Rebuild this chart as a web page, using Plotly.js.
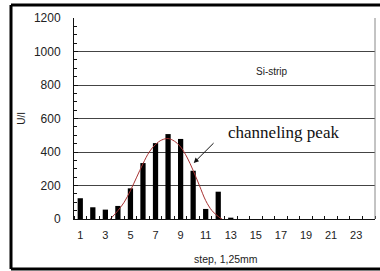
<!DOCTYPE html>
<html>
<head>
<meta charset="utf-8">
<script src="https://cdn.plot.ly/plotly-3.0.1.min.js"></script>
<style>
html,body{margin:0;padding:0;background:#fff;}
#chart{width:380px;height:271px;}
</style>
</head>
<body>
<div id="chart"></div>
<script>
// Data
const steps = [1,2,3,4,5,6,7,8,9,10,11,12,13,14,15,16,17,18,19,20,21,22,23,24];
const counts = [124,70,56,78,183,334,453,507,478,288,60,163,8,0,0,0,0,0,0,0,0,0,0,0];
const fitX = [3.4,4,4.5,5,5.5,6,6.5,7,7.5,8,8.5,9,9.5,10,10.5,11,11.5,12,12.3];
const fitY = [0,50,100,170,250,330,400,445,472,480,465,430,370,290,200,110,50,15,0];
const tickVals = [1,3,5,7,9,11,13,15,17,19,21,23];
const tickText = ["1","3","5","7","9","11","13","15","17","19","21","23"];
const xTitle = "step, 1,25mm";
const yTitle = "U/I";
const label1 = "Si-strip";
const label2 = "channeling peak";

const traces = [
  {type:'bar', x:steps, y:counts, width:0.42, marker:{color:'#000'}, hoverinfo:'skip'},
  {type:'scatter', mode:'lines', x:fitX, y:fitY, line:{color:'#a83232', width:1, shape:'spline'}, hoverinfo:'skip'}
];

const sans = 'Arial, "Liberation Sans", sans-serif';
const axFont = {family:sans, size:11, color:'#222'};

const layout = {
  width:380, height:271,
  margin:{l:74, r:5, t:18, b:52},
  paper_bgcolor:'#fff', plot_bgcolor:'#fff',
  showlegend:false,
  font:axFont,
  xaxis:{
    range:[0.5,24.5], tickmode:'array', tickvals:tickVals, ticktext:tickText,
    ticks:'', showgrid:false, zeroline:false,
    showline:true, linecolor:'#111', linewidth:1,
    tickfont:axFont, ticklabelstandoff:6,
    minor:{tickmode:'linear', tick0:0.5, dtick:1, ticks:'inside', ticklen:3, tickcolor:'#111', showgrid:false}
  },
  yaxis:{
    range:[0,1200], tickmode:'linear', tick0:0, dtick:200,
    ticks:'inside', ticklen:4, tickcolor:'#111',
    showgrid:true, gridcolor:'#444', gridwidth:1,
    zeroline:false, showline:true, linecolor:'#111', linewidth:1,
    tickfont:{family:sans, size:12, color:'#222'}, ticklabelstandoff:10,
    minor:{dtick:50, ticks:'inside', ticklen:3, tickcolor:'#111', showgrid:false}
  },
  shapes:[
    // plot area right border
    {type:'line', xref:'paper', yref:'paper', x0:1, x1:1, y0:0, y1:1, line:{color:'#888', width:1}},
    // outer frame (top, left, bottom)
    {type:'line', xref:'paper', yref:'paper', x0:-0.2093, x1:1.05, y0:1.0647, y1:1.0647, line:{color:'#000', width:3}},
    {type:'line', xref:'paper', yref:'paper', x0:-0.2093, x1:-0.2093, y0:1.0647, y1:-0.2488, line:{color:'#000', width:3}},
    {type:'line', xref:'paper', yref:'paper', x0:-0.2093, x1:1.05, y0:-0.2488, y1:-0.2488, line:{color:'#000', width:3}}
  ],
  annotations:[
    {text:label1, x:16.3, y:878, xref:'x', yref:'y', showarrow:false,
     font:{family:sans, size:10, color:'#222'}},
    {text:label2, x:17.2, y:515, xref:'x', yref:'y', showarrow:false,
     font:{family:'"Liberation Serif", "Times New Roman", serif', size:17, color:'#111'}},
    {text:'', x:10.05, y:335, xref:'x', yref:'y', ax:11.75, ay:462, axref:'x', ayref:'y',
     showarrow:true, arrowhead:2, arrowsize:1, arrowwidth:1, arrowcolor:'#111'},
    {text:xTitle, x:0.5, y:-0.2, xref:'paper', yref:'paper', showarrow:false,
     xanchor:'center', yanchor:'middle',
     font:{family:sans, size:10.5, color:'#222'}},
    {text:yTitle, x:-0.175, y:0.5, xref:'paper', yref:'paper', showarrow:false, textangle:-90,
     xanchor:'center', yanchor:'middle',
     font:{family:sans, size:10, color:'#222'}}
  ]
};
// x title position in paper units computed from pixel location
layout.annotations[3].x = (226-74)/301;
layout.annotations[3].y = (219-259)/201;

Plotly.newPlot('chart', traces, layout, {staticPlot:true, displayModeBar:false});
</script>
</body>
</html>
